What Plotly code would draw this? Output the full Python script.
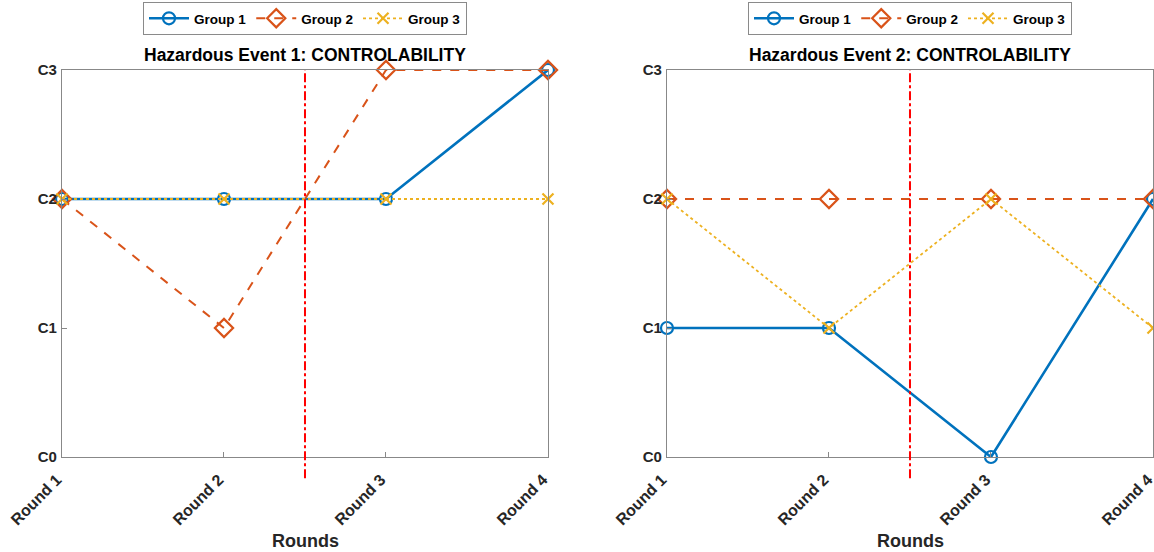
import plotly.graph_objects as go

rounds = ["Round 1", "Round 2", "Round 3", "Round 4"]
levels = ["C0", "C1", "C2", "C3"]
groups = ["Group 1", "Group 2", "Group 3"]
titles = ["Hazardous Event 1: CONTROLABILITY", "Hazardous Event 2: CONTROLABILITY"]

ev1_g1 = [2, 2, 2, 3]
ev1_g2 = [2, 1, 3, 3]
ev1_g3 = [2, 2, 2, 2]
ev2_g1 = [1, 1, 0, 2]
ev2_g2 = [2, 2, 2, 2]
ev2_g3 = [2, 1, 2, 1]
split_at = 2.5

colors = ["#0072BD", "#D95319", "#EDB120"]
symbols = ["circle-open", "diamond-open", "x-thin-open"]
msizes = [12, 14, 11]
dashes = ["solid", "dash", "dot"]
widths = [2.6, 2, 1.8]

W, H = 1154, 552
xdoms = [(62 / W, 548 / W), (667 / W, 1153 / W)]
ydom = ((552 - 457) / H, (552 - 70) / H)

fig = go.Figure()
xpos = [1, 2, 3, 4]
font_main = "Liberation Sans, Arial, Helvetica, sans-serif"

for p, data in enumerate([(ev1_g1, ev1_g2, ev1_g3), (ev2_g1, ev2_g2, ev2_g3)]):
    xa = "x" if p == 0 else "x2"
    ya = "y" if p == 0 else "y2"
    lg = "legend" if p == 0 else "legend2"
    for i, vals in enumerate(data):
        fig.add_trace(go.Scatter(
            x=xpos, y=vals, mode="lines+markers", name=groups[i],
            xaxis=xa, yaxis=ya, legend=lg, cliponaxis=False,
            line=dict(color=colors[i], width=widths[i], dash=dashes[i]),
            marker=dict(symbol=symbols[i], size=msizes[i], color=colors[i],
                        line=dict(width=2.2, color=colors[i])),
        ))
    fig.add_shape(type="line", xref=xa, yref=(ya + " domain"),
                  x0=split_at, x1=split_at, y0=-0.055, y1=1,
                  line=dict(color="red", width=2, dash="dashdot"))
    fig.add_annotation(text=titles[p], xref=(xa + " domain"), yref="paper",
                       x=0.5, y=(552 - 55) / H, showarrow=False, yanchor="middle",
                       font=dict(size=17.5, color="#000", family=font_main, weight="bold"))
    fig.add_annotation(text="Rounds", xref=(xa + " domain"), yref="paper",
                       x=0.5, y=(552 - 541) / H, showarrow=False, yanchor="middle",
                       font=dict(size=18, color="#262626", family=font_main, weight="bold"))

axis_common = dict(showline=True, linecolor="#888888", linewidth=1.3, mirror=True,
                   ticks="inside", ticklen=5, tickcolor="#888888", showgrid=False,
                   zeroline=False, automargin=False,
                   tickfont=dict(size=15, color="#262626", family=font_main, weight="bold"))

for p in range(2):
    sfx = "" if p == 0 else "2"
    fig.update_layout(**{
        "xaxis" + sfx: dict(axis_common, domain=list(xdoms[p]), range=[1, 4.0001],
                            tickvals=xpos, ticktext=rounds, tickangle=-45,
                            ticklabeloverflow="allow", anchor="y" + sfx,
                            ticklabelstandoff=6, ticklabelshift=-5,
                            tickfont=dict(size=16, color="#262626", family=font_main,
                                          weight="bold")),
        "yaxis" + sfx: dict(axis_common, domain=list(ydom), range=[0, 3],
                            tickvals=[0, 1, 2, 3], ticktext=levels,
                            anchor="x" + sfx, ticklabelstandoff=1),
    })

legend_common = dict(orientation="h", xanchor="center", yanchor="top",
                     bgcolor="white", bordercolor="#8a8a8a", borderwidth=1,
                     font=dict(size=13.5, color="#000", family=font_main, weight="bold"),
                     itemwidth=40, tracegroupgap=0)
fig.update_layout(
    width=W, height=H, plot_bgcolor="white", paper_bgcolor="white",
    margin=dict(l=0, r=0, t=0, b=0),
    legend=dict(legend_common, x=305 / W, y=1 - 2 / H),
    legend2=dict(legend_common, x=910 / W, y=1 - 2 / H),
)

fig.write_html("out.html", config={"displayModeBar": False},
               post_script="document.body.style.margin='0';")
